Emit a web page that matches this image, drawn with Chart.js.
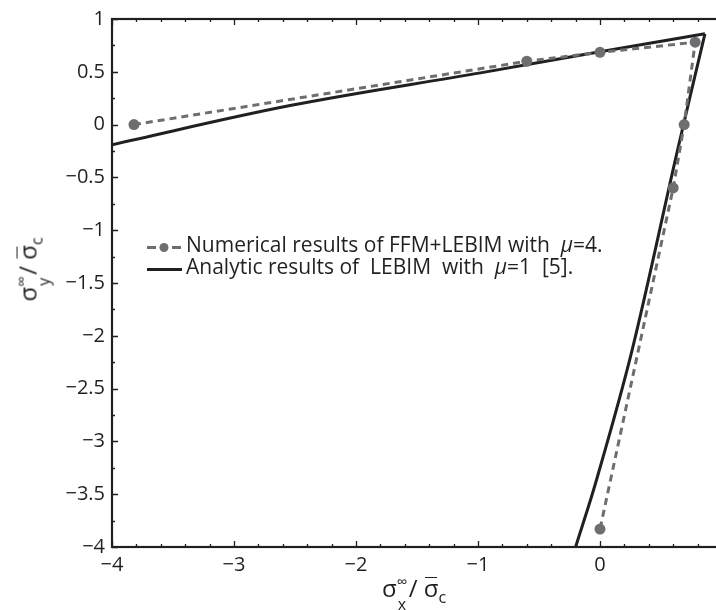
<!DOCTYPE html>
<html><head><meta charset="utf-8">
<script src="https://cdn.jsdelivr.net/npm/chart.js@4.4.1/dist/chart.umd.min.js"></script>
<style>
html,body{margin:0;padding:0;width:716px;height:610px;overflow:hidden;background:#fff;}
#wrap{position:absolute;left:0;top:0;width:730px;height:610px;}
.t{position:absolute;font-family:"Open Sans",sans-serif;color:#231f20;white-space:pre;line-height:1;}
.ttl{position:absolute;font-family:"Open Sans",sans-serif;color:#231f20;white-space:pre;font-size:24px;line-height:24px;}
.st{display:inline-block;position:relative;width:12px;height:1px;}
.sp{position:absolute;left:0;top:-22px;font-size:15px;line-height:15px;}
.sb{position:absolute;left:1px;top:0px;font-size:16px;line-height:16px;}
.ob{display:inline-block;position:relative;}
.ob::before{content:"";position:absolute;left:1px;right:1px;top:1px;border-top:1.7px solid #231f20;}
.sc{display:inline-block;position:relative;top:6px;font-size:16px;}
</style></head><body>
<div id="wrap"><canvas id="c" width="730" height="610"></canvas></div>
<div class="t" style="left:186px;top:234px;font-size:21px;">Numerical results of FFM+LEBIM with  <i>μ</i>=4.</div>
<div class="t" style="left:186px;top:256px;font-size:21px;">Analytic results of  LEBIM  with  <i>μ</i>=1  [5].</div>
<div class="ttl" id="xt" style="left:382px;top:576px;">σ<span class="st"><span class="sp">∞</span><span class="sb">x</span></span>/ <span class="ob">σ</span><span class="sc">c</span></div>
<div class="ttl" id="yt" style="left:0px;top:0px;">σ<span class="st"><span class="sp">∞</span><span class="sb">y</span></span>/ <span class="ob">σ</span><span class="sc">c</span></div>
<script>
// data
const numX = [-3.82, -0.6, 0, 0.78, 0.69, 0.6, 0];
const numY = [0, 0.6, 0.684, 0.78, 0, -0.6, -3.83];
// analytic curve: left branch and right branch meet at the corner
const anaLeftX = [-4, -2.54, -0.98, 0, 0.86];
const anaLeftY = [-0.19, 0.18, 0.49, 0.69, 0.86];
const anaRightX = [0.86, 0.63, 0.26, -0.03, -0.2];
const anaRightY = [0.86, -0.27, -2.15, -3.37, -4.0];
const xTicks = [-4, -3, -2, -1, 0];
const yTicks = [1, 0.5, 0, -0.5, -1, -1.5, -2, -2.5, -3, -3.5, -4];

const INK = '#231f20';
const GRAY = '#6d6e71';
const FONT = '"Open Sans", sans-serif';

function fmt(v){
  const r = Math.round(v*100)/100;
  return (r < 0 ? '\u2212' : '') + String(Math.abs(r));
}

(function(){
  const yt = document.getElementById('yt');
  const w = yt.offsetWidth, h = yt.offsetHeight;
  const cx = 29, cy = 269;
  yt.style.left = (cx - w/2) + 'px';
  yt.style.top = (cy - h/2) + 'px';
  yt.style.transform = 'rotate(-90deg)';
})();

const boxTicks = {
  id: 'boxTicks',
  afterDraw(chart){
    const ctx = chart.ctx, a = chart.chartArea;
    const xs = chart.scales.x, ys = chart.scales.y;
    ctx.save();
    ctx.strokeStyle = INK;
    ctx.lineWidth = 1.3;
    ctx.beginPath();
    for (let i = -20; i <= 5; i++) {
      const v = i/5;
      const px = Math.round(xs.getPixelForValue(v)) + 0.5;
      const len = (i % 5 === 0) ? 6 : 3;
      ctx.moveTo(px, a.bottom); ctx.lineTo(px, a.bottom - len);
      ctx.moveTo(px, a.top); ctx.lineTo(px, a.top + len);
    }
    for (let i = -16; i <= 4; i++) {
      const v = i/4;
      const py = Math.round(ys.getPixelForValue(v)) + 0.5;
      const len = (i % 2 === 0) ? 6 : 3;
      ctx.moveTo(a.left, py); ctx.lineTo(a.left + len, py);
      ctx.moveTo(a.right, py); ctx.lineTo(a.right - len, py);
    }
    ctx.stroke();
    ctx.lineWidth = 2.2;
    ctx.strokeRect(a.left, a.top, a.right - a.left, a.bottom - a.top);

    const y1 = 247.5, y2 = 269.5;
    ctx.strokeStyle = GRAY; ctx.lineWidth = 3;
    ctx.beginPath();
    ctx.moveTo(147, y1); ctx.lineTo(156, y1);
    ctx.moveTo(172, y1); ctx.lineTo(181, y1);
    ctx.stroke();
    ctx.fillStyle = GRAY;
    ctx.beginPath(); ctx.arc(164, y1, 4.5, 0, Math.PI*2); ctx.fill();
    ctx.strokeStyle = INK; ctx.lineWidth = 3;
    ctx.beginPath(); ctx.moveTo(147, y2); ctx.lineTo(182, y2); ctx.stroke();
    ctx.restore();
  }
};

const anaStyle = { showLine: true, borderColor: INK, borderWidth: 3, pointRadius: 0, tension: 0.35 };

new Chart(document.getElementById('c'), {
  type: 'scatter',
  data: {
    datasets: [
      {
        label: 'Numerical results of FFM+LEBIM with μ=4.',
        data: numX.map((x, i) => ({x, y: numY[i]})),
        showLine: true,
        borderColor: GRAY,
        borderWidth: 3,
        borderDash: [7, 5],
        pointRadius: 5.5,
        pointBackgroundColor: GRAY,
        pointBorderWidth: 0,
        tension: 0
      },
      Object.assign({ label: 'Analytic results of LEBIM with μ=1 [5].',
        data: anaLeftX.map((x, i) => ({x, y: anaLeftY[i]})) }, anaStyle),
      Object.assign({ label: 'Analytic results of LEBIM with μ=1 [5]. (lower branch)',
        data: anaRightX.map((x, i) => ({x, y: anaRightY[i]})) }, anaStyle)
    ]
  },
  options: {
    responsive: false,
    animation: false,
    devicePixelRatio: 1,
    layout: { padding: { left: 0, right: 8, top: 16, bottom: 0 } },
    plugins: { legend: { display: false }, tooltip: { enabled: false } },
    scales: {
      x: {
        type: 'linear', min: -4, max: 1,
        afterBuildTicks: s => { s.ticks = xTicks.map(v => ({value: v})); },
        afterFit: s => { s.height = 63; },
        grid: { display: false, drawTicks: false },
        border: { display: false },
        ticks: { padding: 6, color: INK, font: { family: FONT, size: 20 }, callback: v => fmt(v) }
      },
      y: {
        type: 'linear', min: -4, max: 1,
        afterBuildTicks: s => { s.ticks = yTicks.map(v => ({value: v})); },
        afterFit: s => { s.width = 112; },
        grid: { display: false, drawTicks: false },
        border: { display: false },
        ticks: { padding: 7, color: INK, font: { family: FONT, size: 20 }, callback: v => fmt(v) }
      }
    }
  },
  plugins: [boxTicks]
});
</script>
</body></html>
